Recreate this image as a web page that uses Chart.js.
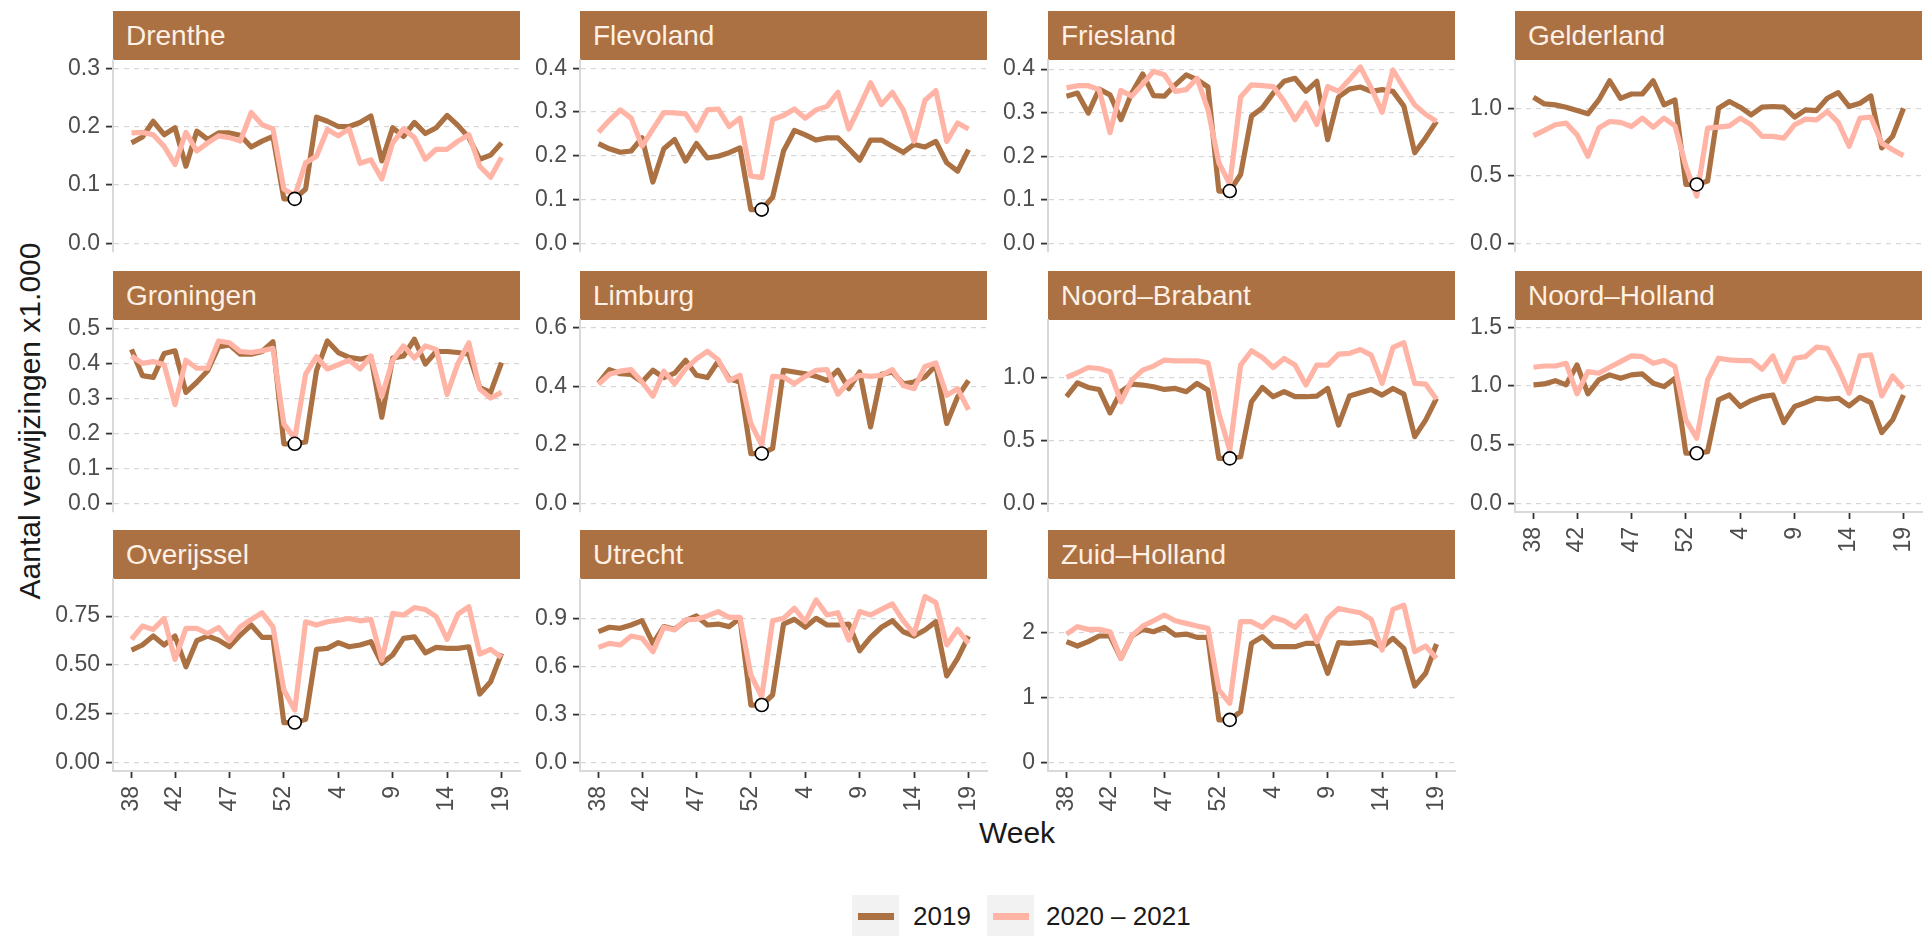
<!doctype html>
<html lang="nl">
<head>
	<meta charset="utf-8">
	<title>Verwijzingen per provincie</title>
	<style>
		* { margin: 0; padding: 0; }
		body { width: 1930px; height: 936px; position: relative; overflow: hidden; background: #fff; font-family: "Liberation Sans", Arial, sans-serif; }
		.strip { position: absolute; width: 407px; height: 49px; line-height: 49px; padding-left: 13px; box-sizing: border-box; background: #ac7142; color: #fdf0e4; font-size: 28px; white-space: nowrap; }
		.panel { position: absolute; }
		.yTitle { position: absolute; left: 30px; top: 421px; transform: translate(-50%, -50%) rotate(-90deg); font-size: 30px; color: #1a1a1a; white-space: nowrap; }
		.xTitle { position: absolute; left: 1017px; top: 833px; transform: translate(-50%, -50%); font-size: 30px; color: #1a1a1a; }
		.legendKey { position: absolute; top: 895px; width: 47px; height: 42px; background: #f2f2f2; }
		.legendKey span { position: absolute; left: 6px; right: 5px; top: 18px; height: 7px; }
		.legendText { position: absolute; top: 916px; transform: translateY(-50%); font-size: 26px; color: #1a1a1a; white-space: nowrap; }
	</style>
</head>
<body>
	<!--=====Titles and legend====-->
	<div class="yTitle">Aantal verwijzingen x1.000</div>
	<div class="xTitle">Week</div>
	<div class="legendKey" style="left:852px"><span style="background:#ac7142"></span></div>
	<div class="legendText" style="left:913px">2019</div>
	<div class="legendKey" style="left:987px"><span style="background:#ffb4a6"></span></div>
	<div class="legendText" style="left:1046px">2020 – 2021</div>

	<script src="https://cdn.jsdelivr.net/npm/chart.js"></script>
	<script>
		/*=====Data=====*/
		const weeks = ['38', '39', '40', '41', '42', '43', '44', '45', '46', '47', '48', '49', '50', '51', '52', '53',
			'1', '2', '3', '4', '5', '6', '7', '8', '9', '10', '11', '12', '13', '14', '15', '16', '17', '18', '19'];
		const weekTicks = ['38', '42', '47', '52', '4', '9', '14', '19'];
		const markWeek = '53';

		const drenthe2019 = [0.172, 0.182, 0.209, 0.186, 0.198, 0.132, 0.192, 0.178, 0.189, 0.189, 0.185, 0.165, 0.175, 0.183, 0.076, 0.076, 0.093, 0.216, 0.209, 0.200, 0.200, 0.207, 0.218, 0.141, 0.198, 0.183, 0.207, 0.188, 0.198, 0.219, 0.202, 0.181, 0.144, 0.151, 0.172];
		const drenthe2020 = [0.189, 0.190, 0.186, 0.166, 0.135, 0.190, 0.158, 0.172, 0.184, 0.181, 0.175, 0.224, 0.203, 0.196, 0.093, 0.081, 0.138, 0.149, 0.195, 0.184, 0.196, 0.137, 0.143, 0.110, 0.172, 0.196, 0.181, 0.144, 0.161, 0.161, 0.175, 0.186, 0.132, 0.113, 0.147];
		const flevoland2019 = [0.228, 0.216, 0.208, 0.211, 0.241, 0.140, 0.216, 0.237, 0.188, 0.228, 0.195, 0.199, 0.207, 0.218, 0.077, 0.077, 0.105, 0.211, 0.258, 0.248, 0.236, 0.241, 0.241, 0.216, 0.190, 0.236, 0.236, 0.222, 0.208, 0.226, 0.220, 0.233, 0.184, 0.165, 0.214];
		const flevoland2020 = [0.254, 0.281, 0.305, 0.286, 0.222, 0.261, 0.299, 0.298, 0.296, 0.258, 0.305, 0.307, 0.267, 0.286, 0.154, 0.150, 0.283, 0.292, 0.307, 0.286, 0.305, 0.313, 0.345, 0.261, 0.313, 0.367, 0.317, 0.345, 0.305, 0.233, 0.327, 0.349, 0.233, 0.275, 0.261];
		const friesland2019 = [0.338, 0.345, 0.299, 0.354, 0.341, 0.284, 0.345, 0.389, 0.339, 0.338, 0.364, 0.387, 0.376, 0.359, 0.120, 0.120, 0.158, 0.292, 0.311, 0.345, 0.372, 0.379, 0.349, 0.372, 0.238, 0.336, 0.354, 0.359, 0.349, 0.353, 0.349, 0.315, 0.208, 0.242, 0.280];
		const friesland2020 = [0.357, 0.362, 0.362, 0.353, 0.254, 0.351, 0.338, 0.366, 0.395, 0.387, 0.349, 0.353, 0.379, 0.307, 0.185, 0.136, 0.336, 0.364, 0.362, 0.360, 0.326, 0.284, 0.322, 0.273, 0.360, 0.349, 0.376, 0.405, 0.357, 0.301, 0.398, 0.357, 0.318, 0.296, 0.280];
		const gelderland2019 = [1.084, 1.034, 1.027, 1.010, 0.985, 0.961, 1.064, 1.206, 1.076, 1.108, 1.108, 1.206, 1.027, 1.064, 0.437, 0.437, 0.462, 1.002, 1.052, 1.010, 0.953, 1.010, 1.015, 1.010, 0.936, 0.990, 0.985, 1.076, 1.118, 1.015, 1.039, 1.093, 0.708, 0.794, 1.002];
		const gelderland2020 = [0.799, 0.838, 0.880, 0.892, 0.806, 0.646, 0.855, 0.904, 0.897, 0.867, 0.929, 0.862, 0.929, 0.872, 0.572, 0.351, 0.855, 0.862, 0.872, 0.929, 0.880, 0.794, 0.794, 0.781, 0.880, 0.921, 0.916, 0.978, 0.897, 0.720, 0.929, 0.936, 0.744, 0.695, 0.651];
		const groningen2019 = [0.440, 0.365, 0.360, 0.428, 0.436, 0.317, 0.346, 0.379, 0.447, 0.453, 0.426, 0.426, 0.434, 0.462, 0.170, 0.170, 0.175, 0.379, 0.464, 0.431, 0.417, 0.412, 0.419, 0.246, 0.415, 0.421, 0.469, 0.398, 0.434, 0.434, 0.431, 0.426, 0.331, 0.317, 0.402];
		const groningen2020 = [0.421, 0.400, 0.405, 0.396, 0.282, 0.409, 0.386, 0.386, 0.464, 0.459, 0.434, 0.431, 0.436, 0.443, 0.227, 0.185, 0.369, 0.419, 0.384, 0.396, 0.409, 0.384, 0.421, 0.305, 0.409, 0.450, 0.415, 0.450, 0.440, 0.311, 0.400, 0.459, 0.327, 0.301, 0.317];
		const limburg2019 = [0.411, 0.457, 0.443, 0.441, 0.415, 0.455, 0.430, 0.445, 0.489, 0.438, 0.430, 0.486, 0.426, 0.415, 0.170, 0.170, 0.188, 0.455, 0.449, 0.443, 0.434, 0.420, 0.455, 0.392, 0.449, 0.261, 0.441, 0.449, 0.409, 0.415, 0.432, 0.472, 0.273, 0.364, 0.420];
		const limburg2020 = [0.407, 0.441, 0.452, 0.457, 0.415, 0.366, 0.452, 0.409, 0.460, 0.494, 0.520, 0.491, 0.420, 0.438, 0.273, 0.199, 0.434, 0.432, 0.409, 0.434, 0.455, 0.457, 0.373, 0.415, 0.438, 0.434, 0.438, 0.457, 0.403, 0.392, 0.468, 0.480, 0.369, 0.392, 0.320];
		const noordBrabant2019 = [0.849, 0.960, 0.923, 0.907, 0.721, 0.889, 0.950, 0.942, 0.928, 0.907, 0.915, 0.889, 0.955, 0.902, 0.358, 0.358, 0.371, 0.809, 0.923, 0.849, 0.889, 0.849, 0.849, 0.854, 0.915, 0.623, 0.854, 0.881, 0.907, 0.862, 0.915, 0.870, 0.531, 0.663, 0.836];
		const noordBrabant2020 = [1.003, 1.040, 1.082, 1.074, 1.048, 0.809, 0.981, 1.061, 1.093, 1.141, 1.135, 1.135, 1.135, 1.119, 0.716, 0.424, 1.101, 1.215, 1.162, 1.082, 1.154, 1.101, 0.942, 1.101, 1.101, 1.188, 1.194, 1.225, 1.180, 0.955, 1.241, 1.279, 0.955, 0.950, 0.828];
		const noordHolland2019 = [1.009, 1.017, 1.045, 1.009, 1.179, 0.932, 1.051, 1.094, 1.065, 1.094, 1.102, 1.023, 0.994, 1.065, 0.426, 0.426, 0.440, 0.881, 0.923, 0.824, 0.875, 0.909, 0.923, 0.688, 0.824, 0.858, 0.895, 0.886, 0.895, 0.830, 0.903, 0.858, 0.602, 0.710, 0.923];
		const noordHolland2020 = [1.159, 1.170, 1.170, 1.193, 0.932, 1.122, 1.108, 1.159, 1.207, 1.256, 1.250, 1.193, 1.216, 1.165, 0.710, 0.554, 1.051, 1.236, 1.222, 1.216, 1.216, 1.142, 1.256, 1.037, 1.236, 1.250, 1.330, 1.321, 1.151, 0.938, 1.256, 1.264, 0.915, 1.085, 0.980];
		const overijssel2019 = [0.576, 0.602, 0.648, 0.602, 0.648, 0.491, 0.624, 0.648, 0.627, 0.593, 0.653, 0.704, 0.641, 0.641, 0.205, 0.205, 0.222, 0.580, 0.585, 0.614, 0.593, 0.602, 0.619, 0.508, 0.551, 0.636, 0.644, 0.562, 0.590, 0.585, 0.585, 0.593, 0.351, 0.414, 0.559];
		const overijssel2020 = [0.631, 0.699, 0.682, 0.738, 0.528, 0.687, 0.687, 0.661, 0.692, 0.624, 0.695, 0.733, 0.767, 0.695, 0.372, 0.269, 0.721, 0.704, 0.721, 0.729, 0.738, 0.726, 0.733, 0.525, 0.764, 0.755, 0.794, 0.784, 0.747, 0.631, 0.760, 0.798, 0.556, 0.580, 0.539];
		const utrecht2019 = [0.820, 0.848, 0.841, 0.862, 0.889, 0.747, 0.852, 0.835, 0.889, 0.919, 0.862, 0.868, 0.852, 0.904, 0.361, 0.361, 0.424, 0.868, 0.898, 0.848, 0.904, 0.862, 0.862, 0.868, 0.701, 0.785, 0.848, 0.889, 0.820, 0.793, 0.831, 0.883, 0.543, 0.653, 0.793];
		const utrecht2020 = [0.722, 0.747, 0.737, 0.793, 0.779, 0.695, 0.848, 0.831, 0.894, 0.898, 0.919, 0.946, 0.910, 0.910, 0.549, 0.413, 0.889, 0.904, 0.967, 0.883, 1.019, 0.925, 0.939, 0.768, 0.946, 0.925, 0.960, 0.994, 0.889, 0.806, 1.040, 1.002, 0.737, 0.835, 0.747];
		const zuidHolland2019 = [1.857, 1.790, 1.857, 1.944, 1.944, 1.601, 1.944, 2.046, 2.010, 2.077, 1.959, 1.974, 1.923, 1.923, 0.655, 0.655, 0.783, 1.831, 1.934, 1.780, 1.780, 1.780, 1.831, 1.831, 1.371, 1.841, 1.831, 1.841, 1.857, 1.770, 1.908, 1.754, 1.176, 1.371, 1.821];
		const zuidHolland2020 = [1.974, 2.087, 2.046, 2.046, 2.010, 1.601, 1.944, 2.097, 2.179, 2.266, 2.179, 2.138, 2.097, 2.061, 1.115, 0.910, 2.164, 2.164, 2.077, 2.230, 2.179, 2.077, 2.251, 1.857, 2.215, 2.368, 2.332, 2.302, 2.200, 1.729, 2.353, 2.419, 1.703, 1.790, 1.601];

		/*=====Tick labels per panel=====*/
		const ticksTenths3 = ['0.0', '0.1', '0.2', '0.3'];
		const ticksTenths4 = ['0.0', '0.1', '0.2', '0.3', '0.4'];
		const ticksTenths5 = ['0.0', '0.1', '0.2', '0.3', '0.4', '0.5'];
		const ticksHalf1 = ['0.0', '0.5', '1.0'];
		const ticksHalf15 = ['0.0', '0.5', '1.0', '1.5'];
		const ticksLimburg = ['0.0', '0.2', '0.4', '0.6'];
		const ticksQuarter = ['0.00', '0.25', '0.50', '0.75'];
		const ticksUtrecht = ['0.0', '0.3', '0.6', '0.9'];
		const ticksWhole = ['0', '1', '2'];

		/*=====Panels=====*/
		const panels = [
			{ name: 'Drenthe', a: drenthe2019, b: drenthe2020, ticks: ticksTenths3, min: -0.015, max: 0.314 },
			{ name: 'Flevoland', a: flevoland2019, b: flevoland2020, ticks: ticksTenths4, min: -0.02, max: 0.419 },
			{ name: 'Friesland', a: friesland2019, b: friesland2020, ticks: ticksTenths4, min: -0.02, max: 0.421 },
			{ name: 'Gelderland', a: gelderland2019, b: gelderland2020, ticks: ticksHalf1, min: -0.064, max: 1.36 },
			{ name: 'Groningen', a: groningen2019, b: groningen2020, ticks: ticksTenths5, min: -0.025, max: 0.524 },
			{ name: 'Limburg', a: limburg2019, b: limburg2020, ticks: ticksLimburg, min: -0.03, max: 0.627 },
			{ name: 'Noord–Brabant', a: noordBrabant2019, b: noordBrabant2020, ticks: ticksHalf1, min: -0.069, max: 1.46 },
			{ name: 'Noord–Holland', a: noordHolland2019, b: noordHolland2020, ticks: ticksHalf15, min: -0.075, max: 1.562 },
			{ name: 'Overijssel', a: overijssel2019, b: overijssel2020, ticks: ticksQuarter, min: -0.043, max: 0.94 },
			{ name: 'Utrecht', a: utrecht2019, b: utrecht2020, ticks: ticksUtrecht, min: -0.052, max: 1.15 },
			{ name: 'Zuid–Holland', a: zuidHolland2019, b: zuidHolland2020, ticks: ticksWhole, min: -0.13, max: 2.82 }
		];

		/*=====Layout=====*/
		const COLS = [113, 580, 1048, 1515];
		const ROWS = [11, 271, 530];
		const PLOT_W = 407, STRIP_H = 49, PLOT_H = 192, AXIS_W = 64, PAD = 22, XAXIS_H = 50;
		const BROWN = '#ac7142', PINK = '#ffb4a6';
		const FONT = 'Liberation Sans';
		const xPad = (weeks.length - 1) * 0.05;

		const toPoints = (arr) => arr.map((v, i) => ({ x: i, y: v }));

		panels.forEach((p, k) => {
			const col = k % 4, row = Math.floor(k / 4);
			const withX = k >= 7;

			const strip = document.createElement('div');
			strip.className = 'strip';
			strip.style.left = COLS[col] + 'px';
			strip.style.top = ROWS[row] + 'px';
			strip.textContent = p.name;
			document.body.appendChild(strip);

			const w = AXIS_W + PLOT_W + PAD;
			const h = PAD + PLOT_H + (withX ? XAXIS_H : PAD);
			const canvas = document.createElement('canvas');
			canvas.className = 'panel';
			canvas.width = w;
			canvas.height = h;
			canvas.style.left = (COLS[col] - AXIS_W) + 'px';
			canvas.style.top = (ROWS[row] + STRIP_H - PAD) + 'px';
			canvas.style.width = w + 'px';
			canvas.style.height = h + 'px';
			document.body.appendChild(canvas);

			const mark = weeks.indexOf(markWeek);

			new Chart(canvas, {
				type: 'line',
				data: {
					datasets: [
						{ label: 'week ' + markWeek, data: [{ x: mark, y: p.a[mark] }], showLine: false,
							pointRadius: 6.5, pointBackgroundColor: '#fff', pointBorderColor: '#000', pointBorderWidth: 1.6, order: 0 },
						{ label: '2020 – 2021', data: toPoints(p.b), borderColor: PINK, borderWidth: 5.2, pointRadius: 0, order: 1 },
						{ label: '2019', data: toPoints(p.a), borderColor: BROWN, borderWidth: 5.2, pointRadius: 0, order: 2 }
					]
				},
				options: {
					responsive: false,
					animation: false,
					layout: { padding: { top: PAD, right: PAD, bottom: withX ? 0 : PAD, left: 0 } },
					plugins: { legend: { display: false }, tooltip: { enabled: false } },
					elements: { line: { tension: 0, borderJoinStyle: 'round', borderCapStyle: 'butt' } },
					scales: {
						x: {
							type: 'linear', display: withX, bounds: 'data',
							min: -xPad, max: weeks.length - 1 + xPad,
							afterBuildTicks: (s) => { s.ticks = weekTicks.map((wk) => ({ value: weeks.indexOf(wk) })); },
							afterFit: (s) => { s.height = withX ? XAXIS_H : 0; },
							ticks: { autoSkip: false, minRotation: 90, maxRotation: 90, padding: 8, color: '#4d4d4d',
								font: { family: FONT, size: 23 }, callback: (v) => weeks[v] },
							grid: { display: true, drawOnChartArea: false, drawTicks: true, tickLength: 7, tickColor: '#333', tickWidth: 1.8 },
							border: { display: true, color: '#d9d9d9', width: 2 }
						},
						y: {
							type: 'linear', bounds: 'data', min: p.min, max: p.max,
							afterBuildTicks: (s) => { s.ticks = p.ticks.map((t) => ({ value: parseFloat(t) })); },
							afterFit: (s) => { s.width = AXIS_W; },
							ticks: { padding: 6, color: '#4d4d4d', font: { family: FONT, size: 23 }, callback: (v, i) => p.ticks[i] },
							grid: { color: '#d6d6d6', lineWidth: 1.2, tickLength: 7, tickColor: '#333', tickWidth: 1.8, tickBorderDash: [] },
							border: { display: true, color: '#d9d9d9', width: 2, dash: [5, 5] }
						}
					}
				}
			});
		});
	</script>
</body>
</html>
